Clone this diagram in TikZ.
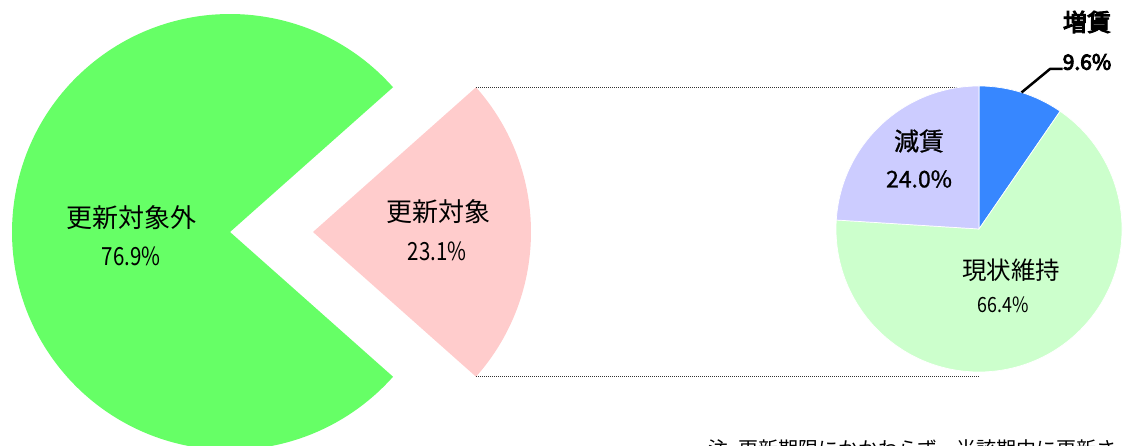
\documentclass[tikz,border=0pt]{standalone}
\usepackage{fontspec}
\usepackage{graphicx}
\newfontfamily\cjk{Noto Sans CJK JP}
\newfontfamily\cjkbold[FakeBold=1]{Noto Sans CJK JP}
\newfontfamily\cjkheavy[FakeBold=4.5]{Noto Sans CJK JP}
\definecolor{pgreen}{HTML}{66FF66}
\definecolor{ppink}{HTML}{FFCCCC}
\definecolor{pblue}{HTML}{3787FF}
\definecolor{plgreen}{HTML}{CCFFCC}
\definecolor{plav}{HTML}{CCCCFF}
\begin{document}
\begin{tikzpicture}[x=1pt,y=1pt,
  lbl/.style={inner sep=0pt, text=black, font=\cjk\fontsize{26}{30}\selectfont},
  num/.style={inner sep=0pt, text=black, font=\cjk\fontsize{25}{30}\selectfont},
  blbl/.style={inner sep=0pt, text=black, font=\cjkbold\fontsize{25}{30}\selectfont},
  hlbl/.style={inner sep=0pt, text=black, font=\cjkheavy\fontsize{24}{28}\selectfont},
  dotline/.style={draw=black!80, line width=0.8pt, dash pattern=on 1pt off 1pt},
  slice/.style={draw=white, line width=0.7pt},
  leader/.style={draw=black, line width=2.5pt},
  notetext/.style={inner sep=0pt, text=black, font=\cjk\fontsize{20}{24}\selectfont}]
\useasboundingbox (0,0) rectangle (1124,446);
\clip (0,0) rectangle (1124,446);
% centres
\coordinate (G) at (230,214);
\coordinate (P) at (313,214);
\coordinate (R) at (979,217);
% left pie
\fill[pgreen] (G) -- ++(41.6:218) arc[start angle=41.6,end angle=318.4,radius=218] -- cycle;
\fill[ppink] (P) -- ++(-41.6:218) arc[start angle=-41.6,end angle=41.6,radius=218] -- cycle;
\path (P) ++(41.6:218) coordinate (pt);
\path (P) ++(-41.6:218) coordinate (pb);
\path (R) ++(0,143) coordinate (rt);
\path (R) ++(0,-143) coordinate (rb);
\draw[dotline] (pt) -- (pt -| rt);
\draw[dotline] (pb) -- (pb -| rb);
% right pie
\filldraw[slice, fill=pblue] (R) -- ++(90:143) arc[start angle=90,end angle=55.44,radius=143] -- cycle;
\filldraw[slice, fill=plgreen] (R) -- ++(55.44:143) arc[start angle=55.44,end angle=-183.6,radius=143] -- cycle;
\filldraw[slice, fill=plav] (R) -- ++(176.4:143) arc[start angle=176.4,end angle=90,radius=143] -- cycle;
% labels
\node[lbl] (l1) at (131,228) {更新対象外};
\node[num] (v1) at (131,190) {\scalebox{0.82}[1]{76.9\%}};
\node[lbl] (l2) at (438,234) {更新対象};
\node[num] (v2) at (437,195) {\scalebox{0.82}[1]{23.1\%}};
\node[blbl] (l3) at (919,305) {減賃};
\node[blbl, font=\cjkbold\fontsize{23}{28}\selectfont] (v3) at (919,267) {24.0\%};
\node[lbl, font=\cjk\fontsize{24.5}{28}\selectfont] (l4) at (1011,176) {現状維持};
\node[num, font=\cjk\fontsize{21}{26}\selectfont] (v4) at (1003,141) {\scalebox{0.85}[1]{66.4\%}};
\node[hlbl] (l5) at (1087,424) {増賃};
\node[hlbl, font=\cjkheavy\fontsize{21}{26}\selectfont] (v5) at (1087,384) {9.6\%};
% leader
\path (R) ++(72.7:143) coordinate (bm);
\coordinate (lk) at (1050,377);
\draw[leader] (bm) -- (lk) -- (v5.west |- lk);
% note
\node[notetext, anchor=base west] (note) at (708,-11) {注\hspace{10pt}更新期限にかかわらず、当該期中に更新さ};
\end{tikzpicture}
\end{document}
